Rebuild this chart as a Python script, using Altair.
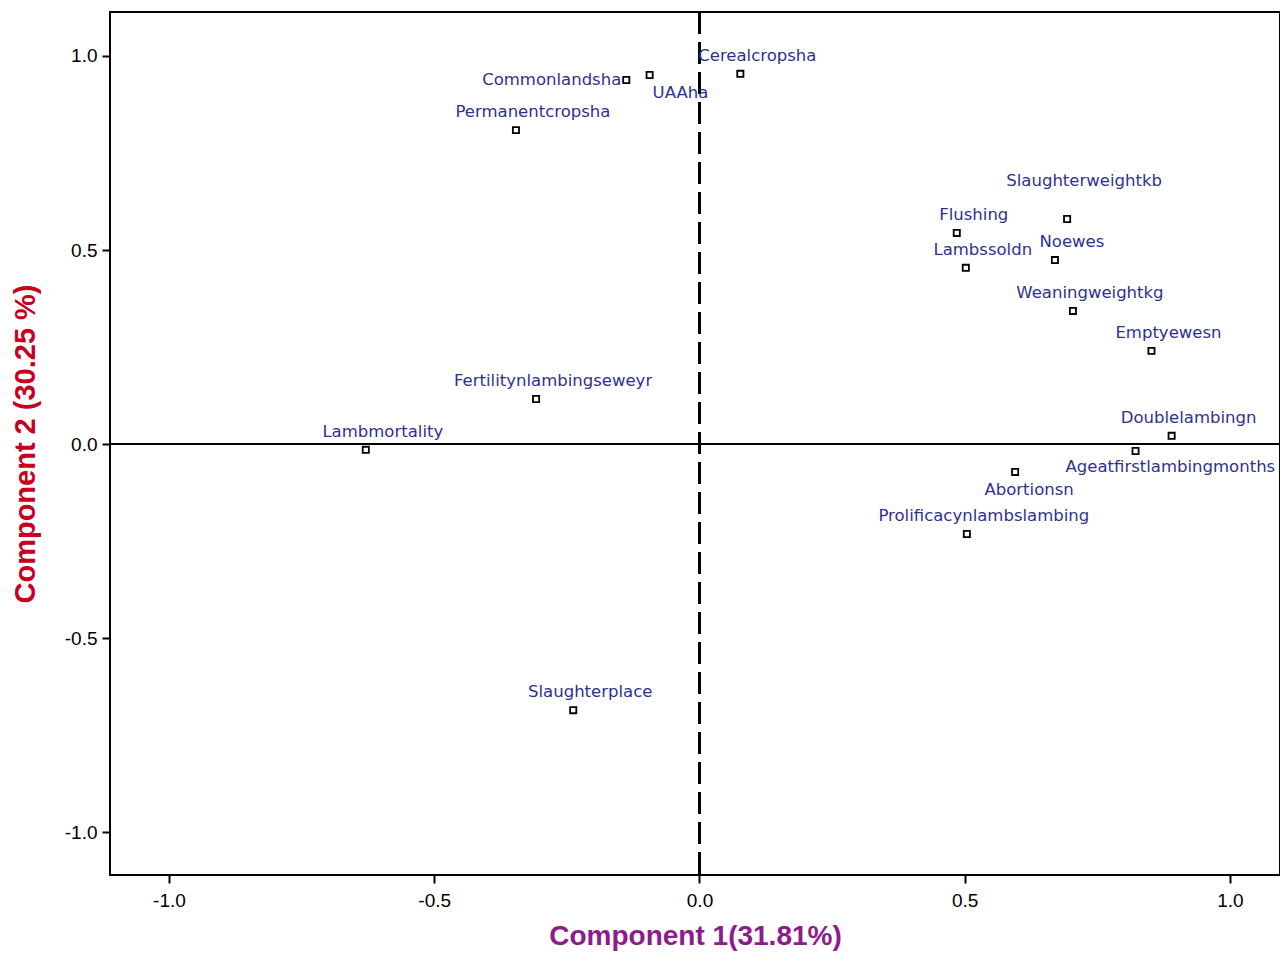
import altair as alt
import pandas as pd

names = ["Commonlandsha", "UAAha", "Cerealcropsha", "Permanentcropsha",
         "Slaughterweightkb", "Flushing", "Noewes", "Lambssoldn",
         "Weaningweightkg", "Emptyewesn", "Doublelambingn",
         "Ageatfirstlambingmonths", "Abortionsn", "Prolificacynlambslambing",
         "Fertilitynlambingseweyr", "Lambmortality", "Slaughterplace"]
comp1 = [-0.138, -0.094, 0.077, -0.346, 0.693, 0.485, 0.670, 0.502,
         0.704, 0.852, 0.890, 0.822, 0.595, 0.504, -0.308, -0.629, -0.238]
comp2 = [0.938, 0.951, 0.954, 0.809, 0.580, 0.544, 0.474, 0.454,
         0.343, 0.240, 0.021, -0.018, -0.072, -0.232, 0.116, -0.015, -0.686]
tick_values = [-1.0, -0.5, 0.0, 0.5, 1.0]

df = pd.DataFrame({"name": names, "c1": comp1, "c2": comp2})

xscale = alt.Scale(domain=[-1.1112, 1.0943], nice=False, zero=False)
yscale = alt.Scale(domain=[-1.1108, 1.1134], nice=False, zero=False)

label_expr = "(datum.value < 0 ? '-' : '') + format(abs(datum.value), '.1f')"
axis_common = dict(
    values=tick_values, labelExpr=label_expr,
    titleFont="Liberation Sans", titleFontWeight="bold",
    grid=False, domain=False, ticks=True, tickSize=8, tickWidth=2, tickColor="black",
    labelFontSize=19, labelColor="black", labelFont="Liberation Sans")

X = alt.X("c1:Q", scale=xscale, axis=alt.Axis(
    title="Component 1(31.81%)", titleColor="#8e1b8c", titleFontSize=28,
    titlePadding=12, labelPadding=8, **axis_common))
Y = alt.Y("c2:Q", scale=yscale, axis=alt.Axis(
    title="Component 2 (30.25 %)", titleColor="#c8001e", titleFontSize=29,
    titlePadding=24, labelPadding=5, **axis_common))

base = alt.Chart(df)

hline = base.mark_rule(color="black", strokeWidth=2).encode(y=alt.Y(datum=0))
vline = base.mark_rule(color="black", strokeWidth=2, strokeDash=[22, 8]).encode(x=alt.X(datum=0))

points = base.mark_point(shape="square", size=38, filled=False, color="black",
                         fill="white", fillOpacity=1, strokeWidth=1.8,
                         opacity=1).encode(x=X, y=Y)

label_style = dict(font="DejaVu Sans", fontSize=16.5, color="#2e3192", baseline="middle")

special = {
    "Commonlandsha": dict(dx=-5, dy=0, align="right"),
    "UAAha": dict(dx=3, dy=18, align="left"),
    "Slaughterweightkb": dict(dx=17, dy=-38, align="center"),
    "Ageatfirstlambingmonths": dict(dx=-70, dy=16, align="left"),
    "Abortionsn": dict(dx=14, dy=18, align="center"),
}

layers = [hline, vline, points]
std_names = [n for n in names if n not in special]
layers.append(base.mark_text(dx=17, dy=-18, align="center", **label_style).encode(
    x="c1:Q", y="c2:Q", text="name:N").transform_filter(
    alt.FieldOneOfPredicate(field="name", oneOf=std_names)))
for n, opts in special.items():
    layers.append(base.mark_text(**opts, **label_style).encode(
        x="c1:Q", y="c2:Q", text="name:N").transform_filter(
        alt.FieldEqualPredicate(field="name", equal=n)))

chart = alt.layer(*layers).properties(
    width=1170, height=863,
    background="white",
    autosize=alt.AutoSizeParams(type="none"),
    padding={"left": 102, "top": 4, "right": 0, "bottom": 82},
).configure_view(stroke="black", strokeWidth=2)

chart.save("out.html", embed_options={"renderer": "svg", "actions": False})
